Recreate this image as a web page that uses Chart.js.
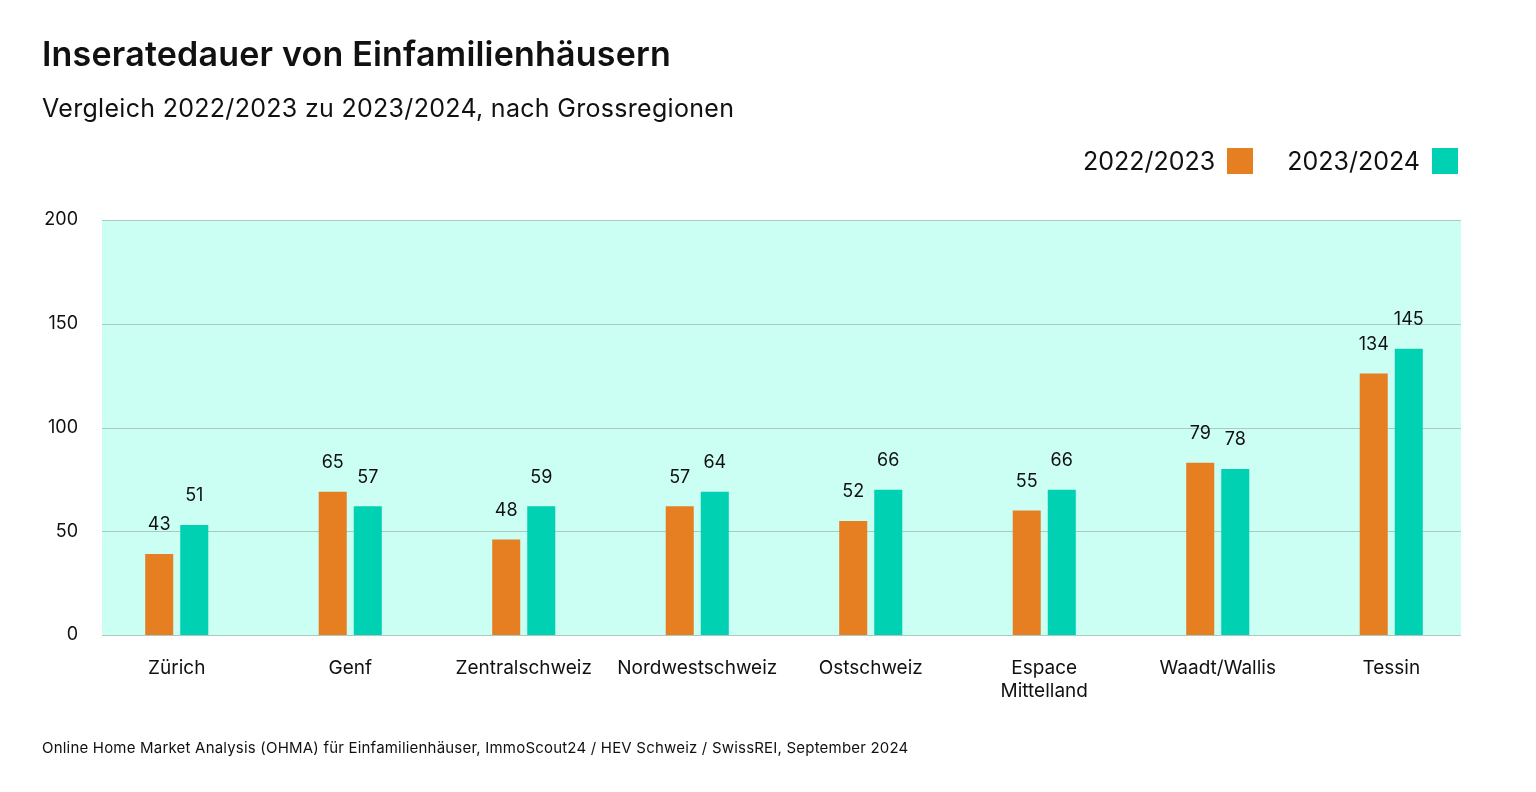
<!DOCTYPE html>
<html>
<head>
<meta charset="utf-8">
<script src="https://cdn.jsdelivr.net/npm/chart.js@4"></script>
<style>
  body { margin: 0; background: #fff; font-family: Inter, "Noto Sans", sans-serif; color: #111; }
  #wrap { position: relative; width: 1536px; height: 792px; }
  canvas { position: absolute; left: 0; top: 0; }
  .title { position: absolute; left: 42px; top: 33px; font-size: 34px; font-weight: 600; letter-spacing: 0.2px; }
  .sub { position: absolute; left: 42px; top: 93px; font-size: 25px; letter-spacing: 0.3px; }
  .legend { position: absolute; right: 78px; top: 146px; font-size: 25px; display: flex; align-items: center; }
  .legend span.box { display: inline-block; width: 26px; height: 26px; margin: 0 34px 0 12px; }
  .legend span.box:last-child { margin-right: 0; }
  .foot { position: absolute; left: 42px; top: 738px; font-size: 15px; letter-spacing: 0.2px; }
</style>
</head>
<body>
<div id="wrap">
  <canvas id="c" width="1536" height="792"></canvas>
  <div class="title">Inseratedauer von Einfamilienhäusern</div>
  <div class="sub">Vergleich 2022/2023 zu 2023/2024, nach Grossregionen</div>
  <div class="legend">2022/2023<span class="box" style="background:#e67e22"></span>2023/2024<span class="box" style="background:#00d1b2"></span></div>
  <div class="foot">Online Home Market Analysis (OHMA) für Einfamilienhäuser, ImmoScout24 / HEV Schweiz / SwissREI, September 2024</div>
</div>
<script>
const categories = ['Zürich', 'Genf', 'Zentralschweiz', 'Nordwestschweiz', 'Ostschweiz', ['Espace', 'Mittelland'], 'Waadt/Wallis', 'Tessin'];
// bar heights as drawn in the picture
const bars2223 = [39, 69, 46, 62, 55, 60, 83, 126];
const bars2324 = [53, 62, 62, 69, 70, 70, 80, 138];
// value labels printed above the bars
const labels2223 = [43, 65, 48, 57, 52, 55, 79, 134];
const labels2324 = [51, 57, 59, 64, 66, 66, 78, 145];
const seriesNames = ['2022/2023', '2023/2024'];
const yTicks = [0, 50, 100, 150, 200];

// background + gridlines drawn over a slightly narrower band than the category area
const bgPlugin = {
    id: 'bg',
    beforeDatasetsDraw(chart) {
        const { ctx, chartArea: a, scales } = chart;
        const left = 102, right = 1461;
        ctx.save();
        ctx.fillStyle = '#ccfff3';
        ctx.fillRect(left, a.top, right - left, a.bottom - a.top);
        ctx.strokeStyle = '#a9c9c1';
        ctx.lineWidth = 1;
        yTicks.forEach(v => {
            const y = Math.round(scales.y.getPixelForValue(v)) + 0.5;
            ctx.beginPath();
            ctx.moveTo(left, y);
            ctx.lineTo(right, y);
            ctx.stroke();
        });
        ctx.restore();
    },
    afterDatasetsDraw(chart) {
        const ctx = chart.ctx;
        const texts = [labels2223, labels2324];
        ctx.save();
        ctx.font = '18px Inter, "Noto Sans", sans-serif';
        ctx.fillStyle = '#111';
        ctx.textAlign = 'center';
        ctx.textBaseline = 'bottom';
        chart.data.datasets.forEach((ds, i) => {
            chart.getDatasetMeta(i).data.forEach((bar, j) => {
                ctx.fillText(texts[i][j], bar.x, bar.y - 20);
            });
        });
        ctx.restore();
    }
};

new Chart(document.getElementById('c'), {
    type: 'bar',
    data: {
        labels: categories,
        datasets: [
            { label: seriesNames[0], data: bars2223, backgroundColor: '#e67e22' },
            { label: seriesNames[1], data: bars2324, backgroundColor: '#00d1b2' }
        ]
    },
    options: {
        responsive: false,
        animation: false,
        layout: { padding: { left: 30, right: 58, top: 220, bottom: 77 } },
        datasets: { bar: { categoryPercentage: 0.404, barPercentage: 0.8 } },
        plugins: { legend: { display: false }, tooltip: { enabled: false } },
        scales: {
            y: {
                min: 0, max: 200,
                ticks: { stepSize: 50, color: '#111', font: { size: 18, family: 'Inter' }, padding: 4 },
                grid: { display: false },
                border: { display: false },
                afterFit(s) { s.width = 60; }
            },
            x: {
                ticks: { color: '#111', font: { size: 19, family: 'Inter' }, padding: 14, maxRotation: 0, autoSkip: false },
                grid: { display: false },
                border: { display: false },
                afterFit(s) { s.height = 80; }
            }
        }
    },
    plugins: [bgPlugin]
});
</script>
</body>
</html>
